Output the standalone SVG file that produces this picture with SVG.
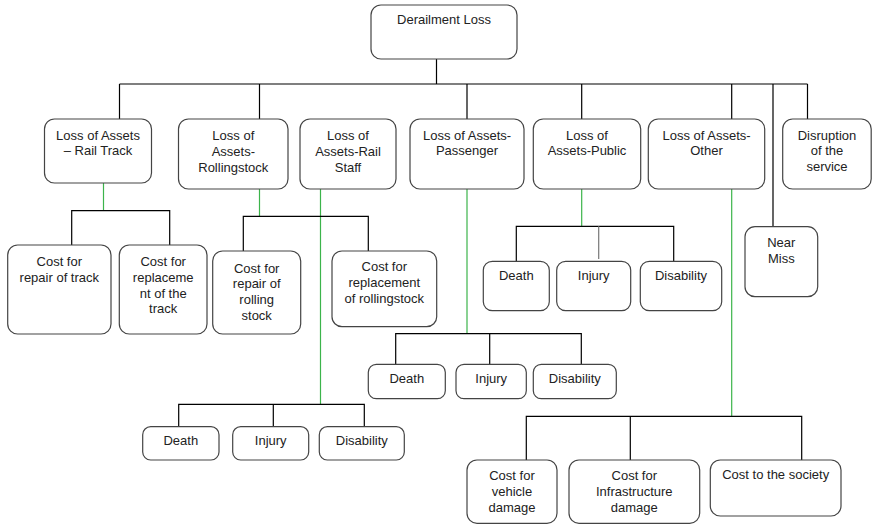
<svg xmlns="http://www.w3.org/2000/svg" width="872" height="524" viewBox="0 0 872 524">
<style>
.b{fill:#fff;stroke:#444;stroke-width:1.2}
.t{font-family:"Liberation Sans",Arial,sans-serif;font-size:13px;fill:#222;text-anchor:middle}
.c{fill:none;stroke:#000;stroke-width:1.2}
.g{fill:none;stroke:#3cb44b;stroke-width:1.2}
.y{fill:none;stroke:#777;stroke-width:1.2}
</style>
<rect width="872" height="524" fill="#fff"/>
<g id="connectors">
<path class="c" d="M436.5 59V84M119.5 84H807.5M119.5 84V119M259.5 84V119M467 84V119M581.7 84V119M731.7 84V119M807.5 84V119M773 84V226.7"/>
<path class="g" d="M103.5 183V210.7M259.5 189V216.3M320.5 189V404.3M467 189V333.7M581.7 189V226.3M731.7 189V416.3"/>
<path class="c" d="M71.7 245V210.7H169.7V245M243.3 251V216.3H368.3V251"/>
<path class="c" d="M516.3 261.3V226.3H673.7V261.3"/>
<path class="y" d="M598.7 226.3V259"/>
<path class="c" d="M395.7 364.3V333.7H581.3V364.3M489.7 333.7V364.3"/>
<path class="c" d="M178.7 426.7V404.3H364.3V426.7M273.3 404.3V426.7"/>
<path class="c" d="M526.3 460V416.3H801.7V460M630.3 416.3V460"/>
</g>
<g id="root"><rect class="b" x="371" y="5" width="146" height="54" rx="10"/><text class="t" x="444" y="24">Derailment Loss</text></g>
<g id="railtrack"><rect class="b" x="44.5" y="119" width="107" height="64" rx="10"/><text class="t" x="98" y="139.5">Loss of Assets</text><text class="t" x="98" y="155">– Rail Track</text></g>
<g id="rollingstock"><rect class="b" x="178.5" y="119" width="109.5" height="70" rx="10"/><text class="t" x="233.3" y="139.5">Loss of</text><text class="t" x="233.3" y="155.5">Assets-</text><text class="t" x="233.3" y="171.5">Rollingstock</text></g>
<g id="railstaff"><rect class="b" x="300" y="119" width="96" height="70" rx="10"/><text class="t" x="348" y="139.5">Loss of</text><text class="t" x="348" y="155.5">Assets-Rail</text><text class="t" x="348" y="171.5">Staff</text></g>
<g id="passenger"><rect class="b" x="410" y="119" width="114" height="70" rx="10"/><text class="t" x="467" y="139.5">Loss of Assets-</text><text class="t" x="467" y="155">Passenger</text></g>
<g id="public"><rect class="b" x="533.3" y="119" width="107.4" height="70" rx="10"/><text class="t" x="587" y="139.5">Loss of</text><text class="t" x="587" y="155">Assets-Public</text></g>
<g id="other"><rect class="b" x="648.3" y="119" width="116.4" height="70" rx="10"/><text class="t" x="706.5" y="139.5">Loss of Assets-</text><text class="t" x="706.5" y="155">Other</text></g>
<g id="disruption"><rect class="b" x="782.7" y="119" width="88.5" height="70" rx="10"/><text class="t" x="827" y="139.5">Disruption</text><text class="t" x="827" y="155">of the</text><text class="t" x="827" y="170.5">service</text></g>
<g id="nearmiss"><rect class="b" x="745" y="226.7" width="72.7" height="70" rx="10"/><text class="t" x="781.3" y="247">Near</text><text class="t" x="781.3" y="263">Miss</text></g>
<g id="repairtrack"><rect class="b" x="7.7" y="245" width="103.3" height="89" rx="10"/><text class="t" x="59.3" y="266.2">Cost for</text><text class="t" x="59.3" y="281.8">repair of track</text></g>
<g id="replacetrack"><rect class="b" x="119.3" y="245" width="87.7" height="89" rx="10"/><text class="t" x="163.2" y="266.2">Cost for</text><text class="t" x="163.2" y="281.8">replaceme</text><text class="t" x="163.2" y="297.5">nt of the</text><text class="t" x="163.2" y="313">track</text></g>
<g id="repairrolling"><rect class="b" x="212.7" y="251" width="88" height="83" rx="10"/><text class="t" x="256.7" y="272.8">Cost for</text><text class="t" x="256.7" y="288.2">repair of</text><text class="t" x="256.7" y="304.2">rolling</text><text class="t" x="256.7" y="319.8">stock</text></g>
<g id="replacerolling"><rect class="b" x="332" y="251" width="104.7" height="75.7" rx="10"/><text class="t" x="384.3" y="271.2">Cost for</text><text class="t" x="384.3" y="287.2">replacement</text><text class="t" x="384.3" y="302.8">of rollingstock</text></g>
<g id="pub-death"><rect class="b" x="483.3" y="261.3" width="66" height="49.4" rx="9"/><text class="t" x="516.3" y="280.2">Death</text></g>
<g id="pub-injury"><rect class="b" x="556.7" y="261.3" width="74" height="49.4" rx="9"/><text class="t" x="593.7" y="280.2">Injury</text></g>
<g id="pub-disability"><rect class="b" x="640.3" y="261.3" width="81.4" height="49.4" rx="9"/><text class="t" x="681" y="280.2">Disability</text></g>
<g id="pas-death"><rect class="b" x="368.3" y="364.3" width="77" height="34.4" rx="8"/><text class="t" x="406.8" y="382.8">Death</text></g>
<g id="pas-injury"><rect class="b" x="456" y="364.3" width="70.3" height="34.4" rx="8"/><text class="t" x="491.2" y="382.8">Injury</text></g>
<g id="pas-disability"><rect class="b" x="533.3" y="364.3" width="83" height="34.4" rx="8"/><text class="t" x="574.8" y="382.8">Disability</text></g>
<g id="staff-death"><rect class="b" x="142.7" y="426.7" width="76.3" height="33.3" rx="8"/><text class="t" x="180.8" y="445.2">Death</text></g>
<g id="staff-injury"><rect class="b" x="232.7" y="426.7" width="76" height="33.3" rx="8"/><text class="t" x="270.7" y="445.2">Injury</text></g>
<g id="staff-disability"><rect class="b" x="319.3" y="426.7" width="85" height="33.3" rx="8"/><text class="t" x="361.8" y="445.2">Disability</text></g>
<g id="vehicle"><rect class="b" x="467" y="460" width="90" height="63.3" rx="10"/><text class="t" x="512" y="480.2">Cost for</text><text class="t" x="512" y="495.8">vehicle</text><text class="t" x="512" y="511.8">damage</text></g>
<g id="infra"><rect class="b" x="569" y="460" width="130.7" height="63.3" rx="10"/><text class="t" x="634.3" y="480.2">Cost for</text><text class="t" x="634.3" y="495.8">Infrastructure</text><text class="t" x="634.3" y="511.8">damage</text></g>
<g id="society"><rect class="b" x="710.3" y="460" width="130.7" height="56" rx="10"/><text class="t" x="775.7" y="479.2">Cost to the society</text></g>
</svg>
